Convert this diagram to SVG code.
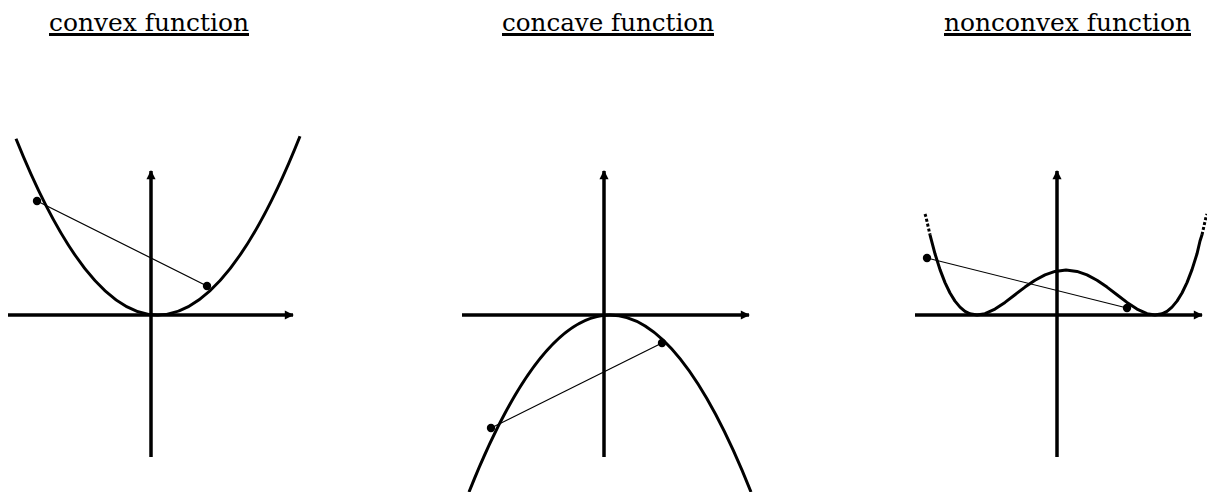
<svg xmlns="http://www.w3.org/2000/svg" width="1207" height="492" viewBox="0 0 1207 492">
<style>
.title{font-family:"DejaVu Serif","Liberation Serif",serif;font-size:25px;fill:#000}
.ul{fill:#000}
.axis{stroke:#000;stroke-width:3.5;fill:none}
.curve{stroke:#000;stroke-width:3;fill:none;stroke-linejoin:round;stroke-linecap:butt}
.dash{stroke:#000;stroke-width:3;fill:none;stroke-dasharray:3 2}
.chord{stroke:#000;stroke-width:1.2;fill:none}
.dot{fill:#000}
</style>
<defs>
<marker id="arr" viewBox="0 0 10 10" refX="9" refY="5" markerWidth="3" markerHeight="2.6" orient="auto" markerUnits="strokeWidth">
<path d="M0,0 L10,5 L0,10 z" fill="#000"/>
</marker>
</defs>
<g id="titles">
<text class="title" x="49" y="31" textLength="200" lengthAdjust="spacingAndGlyphs">convex function</text>
<rect class="ul" x="49" y="33" width="200" height="3"/>
<text class="title" x="502" y="31" textLength="212" lengthAdjust="spacingAndGlyphs">concave function</text>
<rect class="ul" x="502" y="33" width="212" height="3"/>
<text class="title" x="944" y="31" textLength="247" lengthAdjust="spacingAndGlyphs">nonconvex function</text>
<rect class="ul" x="944" y="33" width="247" height="3"/>
</g>
<g id="convex">
<line class="axis" x1="8" y1="315" x2="293" y2="315" marker-end="url(#arr)"/>
<line class="axis" x1="151" y1="457" x2="151" y2="171" marker-end="url(#arr)"/>
<path class="curve" d="M16,138.8 Q158,492.5 300,136.3"/>
<line class="chord" x1="37" y1="201" x2="207" y2="286"/>
<circle class="dot" cx="37" cy="201" r="4.2"/>
<circle class="dot" cx="207" cy="286" r="4.2"/>
</g>
<g id="concave">
<line class="axis" x1="462" y1="315" x2="749" y2="315" marker-end="url(#arr)"/>
<line class="axis" x1="604" y1="457" x2="604" y2="171" marker-end="url(#arr)"/>
<path class="curve" d="M469,492 Q610,138 751,492"/>
<line class="chord" x1="491" y1="428" x2="662" y2="343"/>
<circle class="dot" cx="491" cy="428" r="4.2"/>
<circle class="dot" cx="662" cy="343" r="4.2"/>
</g>
<g id="nonconvex">
<line class="axis" x1="915" y1="315" x2="1202" y2="315" marker-end="url(#arr)"/>
<line class="axis" x1="1057" y1="457" x2="1057" y2="171" marker-end="url(#arr)"/>
<polyline class="dash" points="925,214 926,217 928,226 930,234.8"/>
<polyline class="curve" points="930,234.8 935,253.8 940,269.6 945,282.6 950,293 955,301.1 960,307.1 965,311.3 970,313.8 977,315 985,313.7 995,309.1 1005,302.4 1015,294.7 1025,287.1 1035,280.3 1045,274.9 1055,271.4 1066,270 1077,271.4 1087,274.9 1097,280.3 1107,287.1 1117,294.7 1127,302.4 1137,309.1 1147,313.7 1155,315 1162,313.8 1167,311.3 1172,307.1 1177,301.1 1182,293 1187,282.6 1192,269.6 1197,253.8 1200,241 1202,234.8"/>
<polyline class="dash" points="1202,234.8 1204,226 1206,217 1207,214"/>
<line class="chord" x1="927" y1="258" x2="1127" y2="308"/>
<circle class="dot" cx="927" cy="258" r="4.2"/>
<circle class="dot" cx="1127" cy="308" r="4.2"/>
</g>
</svg>
